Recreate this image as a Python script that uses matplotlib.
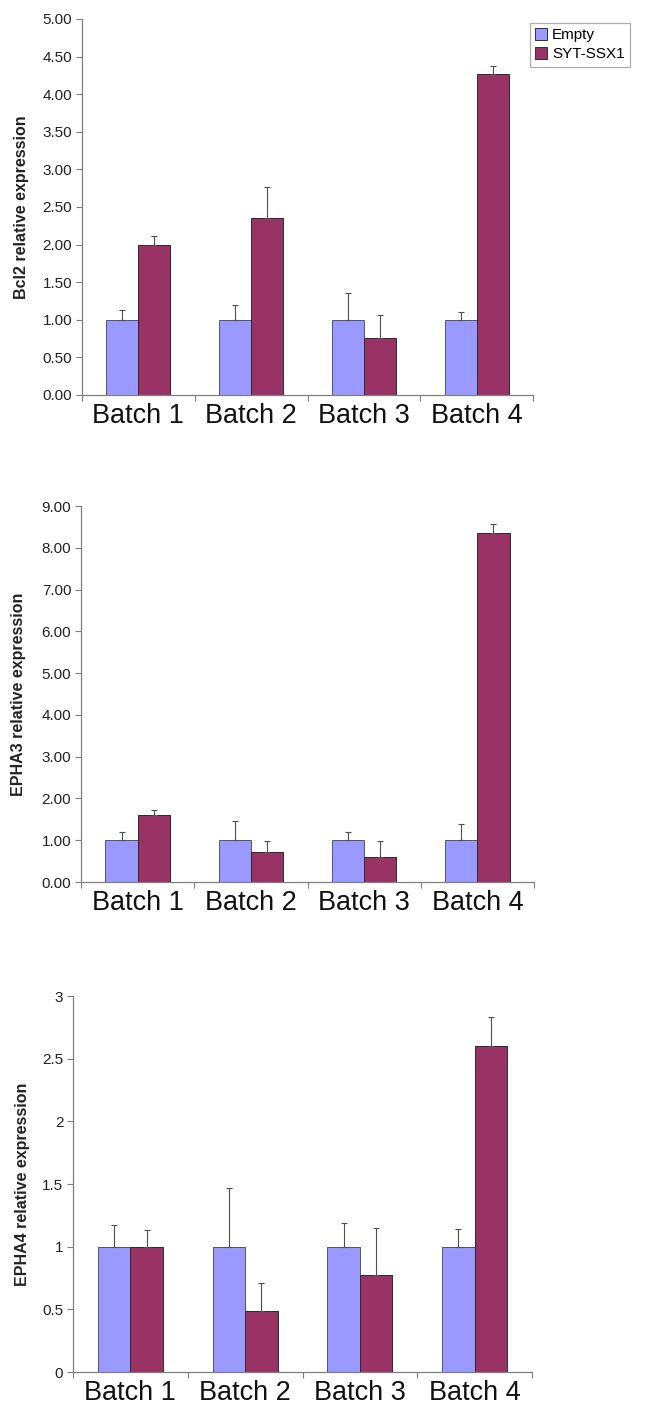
import numpy as np
import matplotlib
matplotlib.use("Agg")
import matplotlib.pyplot as plt
from matplotlib.ticker import FixedLocator, FuncFormatter
from matplotlib.patches import Patch

plt.rcParams['font.family'] = ['Liberation Sans', 'DejaVu Sans']

batches = ["Batch 1", "Batch 2", "Batch 3", "Batch 4"]
series_names = ["Empty", "SYT-SSX1"]
series_colors = ["#9999FF", "#993366"]

# Bcl2
bcl2_empty = [1.00, 1.00, 1.00, 1.00]
bcl2_empty_err = [0.13, 0.20, 0.35, 0.11]
bcl2_syt = [2.00, 2.35, 0.76, 4.27]
bcl2_syt_err = [0.12, 0.42, 0.31, 0.10]

# EPHA3
epha3_empty = [1.00, 1.00, 1.00, 1.00]
epha3_empty_err = [0.19, 0.45, 0.19, 0.40]
epha3_syt = [1.61, 0.73, 0.59, 8.35]
epha3_syt_err = [0.11, 0.26, 0.38, 0.22]

# EPHA4
epha4_empty = [1.00, 1.00, 1.00, 1.00]
epha4_empty_err = [0.17, 0.47, 0.19, 0.14]
epha4_syt = [1.00, 0.49, 0.77, 2.60]
epha4_syt_err = [0.13, 0.22, 0.38, 0.23]

W, H = 647, 1410
fig = plt.figure(figsize=(W / 100, H / 100), dpi=100)


def px_axes(left, right, top, bottom):
    return fig.add_axes([left / W, 1 - bottom / H, (right - left) / W, (bottom - top) / H])


panels = [
    dict(box=(82, 533, 19, 395), ymax=5.0, step=0.5, fmt="{:.2f}",
         label="Bcl2 relative expression", lx=-0.117,
         data=(bcl2_empty, bcl2_empty_err, bcl2_syt, bcl2_syt_err)),
    dict(box=(81, 534, 506, 882), ymax=9.0, step=1.0, fmt="{:.2f}",
         label="EPHA3 relative expression", lx=-0.121,
         data=(epha3_empty, epha3_empty_err, epha3_syt, epha3_syt_err)),
    dict(box=(73, 532, 996, 1372), ymax=3.0, step=0.5, fmt="{:g}",
         label="EPHA4 relative expression", lx=-0.094,
         data=(epha4_empty, epha4_empty_err, epha4_syt, epha4_syt_err)),
]

bar_w = 0.284
axis_col = "#7f7f7f"
x = np.arange(len(batches))

for p in panels:
    ax = px_axes(*p["box"])
    e, ee, s, se = p["data"]
    for vals, errs, off, col, ec in ((e, ee, -bar_w / 2, series_colors[0], "#555566"),
                                     (s, se, bar_w / 2, series_colors[1], "#2a2a2a")):
        ax.bar(x + off, vals, width=bar_w, color=col, edgecolor=ec,
               linewidth=0.7, zorder=2)
        ax.errorbar(x + off, vals, yerr=[np.zeros(len(vals)), errs], fmt="none",
                    ecolor="#505050", elinewidth=0.8, capsize=2, capthick=0.8,
                    zorder=3)
    ax.set_xlim(-0.5, len(batches) - 0.5)
    ax.set_ylim(0, p["ymax"])
    ax.set_yticks(np.arange(0, p["ymax"] + p["step"] / 2, p["step"]))
    fmt = p["fmt"]
    ax.yaxis.set_major_formatter(FuncFormatter(lambda v, _, f=fmt: f.format(v)))
    ax.xaxis.set_major_locator(FixedLocator(np.arange(-0.5, len(batches), 1.0)))
    ax.xaxis.set_major_formatter(FuncFormatter(lambda v, _: ""))
    ax.xaxis.set_minor_locator(FixedLocator(x))
    ax.set_xticklabels(batches, minor=True)
    ax.tick_params(axis="x", which="minor", length=0, labelsize=19.5, pad=6,
                   labelcolor="#111111")
    ax.tick_params(axis="x", which="major", length=4, color=axis_col, width=0.8,
                   direction="out")
    ax.tick_params(axis="y", length=4, color=axis_col, width=0.8,
                   direction="out", labelsize=11, labelcolor="#222222", pad=3)
    for side in ("top", "right"):
        ax.spines[side].set_visible(False)
    for side in ("left", "bottom"):
        ax.spines[side].set_color(axis_col)
        ax.spines[side].set_linewidth(0.9)
    ax.set_ylabel(p["label"], fontsize=11.5, fontweight="bold", color="#222222")
    ax.yaxis.set_label_coords(p["lx"], 0.5)
    ax.set_facecolor("white")

handles = [Patch(facecolor=c, edgecolor="#303030", linewidth=0.7, label=n)
           for c, n in zip(series_colors, series_names)]
leg = fig.legend(handles=handles, loc="upper right",
                 bbox_to_anchor=(630 / W, 1 - 23 / H), fontsize=11,
                 frameon=True, fancybox=False, edgecolor="#9a9a9a",
                 handlelength=0.8, handleheight=0.8, handletextpad=0.3,
                 borderpad=0.35, labelspacing=0.3, borderaxespad=0)
leg.get_frame().set_linewidth(0.9)

fig.savefig("out.png", dpi=100, facecolor="white")
